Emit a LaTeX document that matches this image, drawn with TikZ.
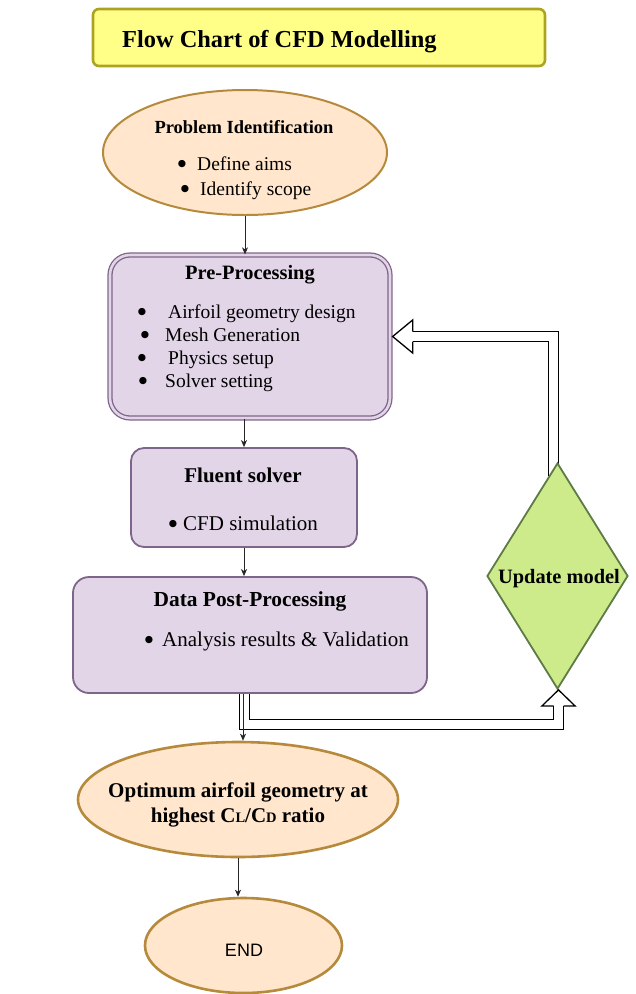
\documentclass[tikz,border=0pt]{standalone}
\usepackage{fontspec}
\setmainfont{Liberation Serif}
\newfontfamily\endfont{Liberation Sans}
\newfontfamily\dotfont{DejaVu Sans}
\usetikzlibrary{shapes.geometric,arrows.meta,calc,backgrounds}

\definecolor{titlefill}{HTML}{FFFF88}
\definecolor{titleline}{HTML}{ACA321}
\definecolor{peachfill}{HTML}{FFE6CC}
\definecolor{peachline}{HTML}{B58A3C}
\definecolor{lilacfill}{HTML}{E1D5E7}
\definecolor{lilacline}{HTML}{7F6589}
\definecolor{leaffill}{HTML}{CDEB8B}
\definecolor{leafline}{HTML}{5E7A45}

\newcommand\setfs[1]{\fontsize{#1}{#1}\selectfont}

\begin{document}
\begin{tikzpicture}[x=1pt,y=-1pt,
  titlebox/.style={draw=titleline, fill=titlefill, line width=2.6pt, rounded corners=6pt, inner sep=0},
  terminal/.style={ellipse, draw=peachline, fill=peachfill, line width=2pt, inner sep=0},
  procbox/.style={rectangle, draw=lilacline, fill=lilacfill, line width=1.8pt, inner sep=0},
  decision/.style={diamond, draw=leafline, fill=leaffill, line width=1.8pt, inner sep=0},
  hd/.style={inner sep=0, anchor=base, text=black},
  item/.style={inner sep=0, anchor=base west, font=\setfs{19.5}, text=black},
  bul/.style={inner sep=0, anchor=base, font=\dotfont\setfs{9.5}, text=black, yshift=3.2pt},
  arr/.style={draw=black!85, line width=0.9pt, -{Stealth[length=7pt,width=6pt,inset=2pt]}},
  flex/.style={draw=black, line width=1.3pt, double=white, double distance=8.7pt, line join=miter},
  flexhead/.style={draw=black, fill=white, line width=1.3pt, line join=miter}
]
\useasboundingbox (0,0) rectangle (635,994);

% title banner
\node[titlebox, minimum width=452pt, minimum height=57pt] (title) at (319,37.5) {};
\node[hd, anchor=base west, font=\setfs{24.4}\bfseries] (titletxt) at (122,47) {Flow Chart of CFD Modelling};

% problem identification
\node[terminal, minimum width=284pt, minimum height=125pt] (prob) at (245,152.5) {};
\node[hd, font=\setfs{18.5}\bfseries] (probhd) at (244,133) {Problem Identification};
\node[bul] (pbA) at (182,170) {●};
\node[item] (piA) at (197,170) {Define aims};
\node[bul] (pbB) at (185,195) {●};
\node[item] (piB) at (200,195) {Identify scope};

% pre-processing
\node[procbox, double=lilacfill, double distance=2.6pt, line width=1.3pt, rounded corners=20pt,
      minimum width=280pt, minimum height=163pt] (pre) at (250,336.5) {};
\node[hd, font=\setfs{20.4}\bfseries] (prehd) at (250,279) {Pre-Processing};
\node[bul] (rbA) at (142,318) {●};
\node[item] (riA) at (168,318) {Airfoil geometry design};
\node[bul] (rbB) at (145,341) {●};
\node[item] (riB) at (165,341) {Mesh Generation};
\node[bul] (rbC) at (142,364) {●};
\node[item] (riC) at (168,364) {Physics setup};
\node[bul] (rbD) at (143,387) {●};
\node[item] (riD) at (165,387) {Solver setting};

% solver
\node[procbox, rounded corners=13pt, minimum width=226pt, minimum height=99pt] (flu) at (244,497.5) {};
\node[hd, font=\setfs{21}\bfseries] (fluhd) at (243,482) {Fluent solver};
\node[bul] (fbA) at (173,530) {●};
\node[item, font=\setfs{21}] (fiA) at (183,530) {CFD simulation};

% post-processing
\node[procbox, rounded corners=16pt, minimum width=354pt, minimum height=116pt] (data) at (250,635) {};
\node[hd, font=\setfs{21.4}\bfseries] (datahd) at (250,606) {Data Post-Processing};
\node[bul] (dbA) at (149,646) {●};
\node[item, font=\setfs{21}] (diA) at (162,646) {Analysis results \& Validation};

% decision
\node[decision, minimum width=141pt, minimum height=226pt] (upd) at (557.5,576) {};
\node[hd, font=\setfs{20.4}\bfseries] (updtxt) at (559,583) {Update model};

% result and end
\node[terminal, line width=2.6pt, minimum width=320pt, minimum height=115pt] (opt) at (238,799.5) {};
\node[hd, font=\setfs{21}\bfseries] (optA) at (238,797) {Optimum airfoil geometry at};
\node[hd, font=\setfs{21}\bfseries] (optB) at (238,822)
  {highest C{\setfs{14.5}L}/C{\setfs{14.5}D} ratio};

\node[terminal, line width=2.6pt, minimum width=197pt, minimum height=95pt] (end) at (243.5,945.5) {};
\node[hd, font=\endfont\setfs{18}] (endtxt) at (244,956) {END};

% main flow
\draw[arr] (prob.south) -- (prob.south |- pre.north);
\draw[arr] (pre.south -| flu.north) -- (flu.north);
\draw[arr] (flu.south) -- (flu.south |- data.north);

% feedback loop (hollow block arrows)
\begin{scope}[on background layer]
  \coordinate (lf0) at ($(data.south)+(-5.5,0)$);
  \draw[flex] (lf0) -- ++(0,30.5) -| ($(upd.south)+(1,16)$);
  \coordinate (uf0) at ($(upd.north)+(-4,14)$);
  \coordinate (uftip) at ($(pre.east)+(2,0)$);
  \draw[flex] (uf0) |- ($(uftip)+(20,0)$);
\end{scope}
\filldraw[flexhead] ($(upd.south)+(-4,16)$) -- ($(upd.south)+(-15.5,16)$) -- ($(upd.south)+(1,0)$)
  -- ($(upd.south)+(17.5,16)$) -- ($(upd.south)+(6,16)$);
\filldraw[flexhead] ($(uftip)+(20,-5)$) -- ($(uftip)+(20,-16.5)$) -- (uftip)
  -- ($(uftip)+(20,16.5)$) -- ($(uftip)+(20,5)$);

\coordinate (dopt) at ($(data.south)+(-7,0)$);
\draw[arr] (dopt) -- (dopt |- opt.north);
\draw[arr] (opt.south) -- (opt.south |- end.north);
\end{tikzpicture}
\end{document}
